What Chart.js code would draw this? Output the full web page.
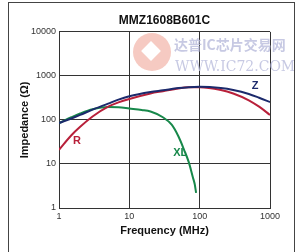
<!DOCTYPE html>
<html>
<head>
<meta charset="utf-8">
<script src="https://cdn.jsdelivr.net/npm/chart.js@4/dist/chart.umd.min.js"></script>
<style>
  html, body { margin: 0; padding: 0; background: #fff; }
  #wrap { position: relative; width: 300px; height: 252px; overflow: hidden; }
  #frame { position: absolute; left: 8px; top: 2px; width: 285px; height: 270px; border: 1px solid #444; pointer-events: none; }
  .wm { position: absolute; font-family: "DejaVu Serif", "Liberation Serif", serif; color: #b9bcdc; opacity: 0.8; pointer-events: none; white-space: nowrap; }
  #logo { position: absolute; left: 133px; top: 33px; width: 38px; height: 38px; border-radius: 50%; background: #f3b9ae; opacity: 0.75; pointer-events: none; }
  #logo div { position: absolute; left: 11px; top: 11px; width: 14px; height: 14px; background: #fff; transform: rotate(45deg); }
</style>
</head>
<body>
<div id="wrap">
  <div id="logo"><div></div></div>
  <canvas id="chart" width="300" height="252"></canvas>
  <div class="wm" style="left:174px; top:34px; font-size:14px; font-family:'Noto Sans CJK SC', sans-serif; font-weight:bold;">达普IC芯片交易网</div>
  <div class="wm" style="left:175px; top:58px; font-size:14px;">WWW.IC72.COM</div>
  <div id="frame"></div>
</div>
<script>
// frequency in MHz
const freqZR = [1, 1.5, 2, 3, 5, 7, 10, 20, 30, 50, 70, 100, 200, 300, 500, 700, 1000];
const zValues = [85, 108, 130, 172, 235, 290, 345, 430, 470, 530, 555, 565, 530, 480, 390, 320, 255];
const rValues = [21, 45, 70, 120, 200, 250, 300, 400, 450, 520, 550, 555, 480, 400, 280, 200, 130];

const freqXL = [1, 1.5, 2, 3, 5, 7, 10, 15, 20, 30, 40, 50, 60, 70, 80, 85, 89];
const xlValues = [85, 115, 140, 175, 198, 195, 182, 168, 155, 115, 78, 42, 21, 11, 5, 3.5, 2.2];

const yTicks = [1, 10, 100, 1000, 10000];
const xTicks = [1, 10, 100, 1000];

// curve labels: [text, freq, value, color]
const curveLabels = [
    ['Z', 615, 590, '#1c2a6c'],
    ['R', 1.8, 33, '#b8203a'],
    ['XL', 53, 18, '#17884a']
];

const pairs = (xs, ys) => xs.map((x, i) => ({x: x, y: ys[i]}));

const labelPlugin = {
    id: 'curveLabels',
    afterDatasetsDraw(chart) {
        const ctx = chart.ctx;
        const xs = chart.scales.x, ys = chart.scales.y;
        ctx.save();
        ctx.font = 'bold 11px "Liberation Sans", Arial, sans-serif';
        ctx.textAlign = 'center';
        ctx.textBaseline = 'middle';
        curveLabels.forEach(l => {
            ctx.fillStyle = l[3];
            ctx.fillText(l[0], xs.getPixelForValue(l[1]), ys.getPixelForValue(l[2]));
        });
        ctx.restore();
    }
};

const ctx = document.getElementById('chart').getContext('2d');

let chart = new Chart(ctx, {
    type: 'line',
    data: {
        datasets: [
            { label: 'Z', data: pairs(freqZR, zValues), borderColor: '#1c2a6c' },
            { label: 'R', data: pairs(freqZR, rValues), borderColor: '#b8203a' },
            { label: 'XL', data: pairs(freqXL, xlValues), borderColor: '#17884a' }
        ]
    },
    options: {
        responsive: false,
        animation: false,
        layout: { padding: { left: 0, right: 30, top: 0, bottom: 0 } },
        elements: {
            line: { borderWidth: 2, cubicInterpolationMode: 'monotone', fill: false },
            point: { radius: 0 }
        },
        plugins: {
            legend: { display: false },
            tooltip: { enabled: false },
            title: {
                display: true,
                text: 'MMZ1608B601C',
                fullSize: false,
                color: '#111',
                font: { family: '"Liberation Sans", Arial, sans-serif', size: 12, weight: 'bold' },
                padding: { top: 13.5, bottom: 4 }
            }
        },
        scales: {
            x: {
                type: 'logarithmic',
                min: 1,
                max: 1000,
                afterBuildTicks: s => { s.ticks = xTicks.map(v => ({value: v})); },
                afterFit: s => { s.height = 44; },
                grid: { color: '#333', lineWidth: 1, drawTicks: false },
                border: { color: '#333' },
                ticks: {
                    color: '#333',
                    padding: 3,
                    maxRotation: 0,
                    font: { family: '"Liberation Sans", Arial, sans-serif', size: 9 },
                    callback: v => String(v)
                },
                title: {
                    display: true,
                    text: 'Frequency (MHz)',
                    color: '#111',
                    font: { family: '"Liberation Sans", Arial, sans-serif', size: 11, weight: 'bold' },
                    padding: { top: 0, bottom: 14 }
                }
            },
            y: {
                type: 'logarithmic',
                min: 1,
                max: 10000,
                afterBuildTicks: s => { s.ticks = yTicks.map(v => ({value: v})); },
                afterFit: s => { s.width = 59; },
                grid: { color: '#333', lineWidth: 1, drawTicks: false },
                border: { color: '#333' },
                ticks: {
                    color: '#333',
                    padding: 3,
                    font: { family: '"Liberation Sans", Arial, sans-serif', size: 9 },
                    callback: v => String(v)
                },
                title: {
                    display: true,
                    text: 'Impedance (Ω)',
                    color: '#111',
                    font: { family: '"Liberation Sans", Arial, sans-serif', size: 11, weight: 'bold' },
                    padding: { top: 18, bottom: 0 }
                }
            }
        }
    },
    plugins: [labelPlugin]
});
</script>
</body>
</html>
